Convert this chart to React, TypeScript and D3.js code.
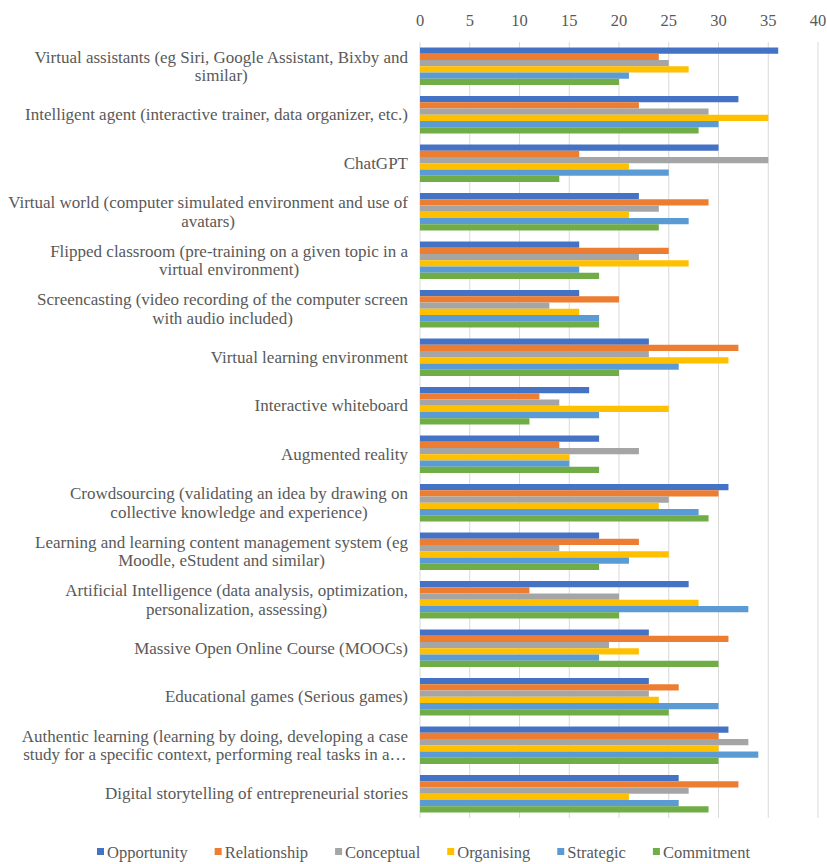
import React, { useEffect, useRef } from "react";
import * as d3 from "d3";

const categories: string[] = [
  "Virtual assistants (eg Siri, Google Assistant, Bixby and\nsimilar)",
  "Intelligent agent (interactive trainer, data organizer, etc.)",
  "ChatGPT",
  "Virtual world (computer simulated environment and use of\navatars)",
  "Flipped classroom (pre-training on a given topic in a\nvirtual environment)",
  "Screencasting (video recording of the computer screen\nwith audio included)",
  "Virtual learning environment",
  "Interactive whiteboard",
  "Augmented reality",
  "Crowdsourcing (validating an idea by drawing on\ncollective knowledge and experience)",
  "Learning and learning content management system (eg\nMoodle, eStudent and similar)",
  "Artificial Intelligence (data analysis, optimization,\npersonalization, assessing)",
  "Massive Open Online Course (MOOCs)",
  "Educational games (Serious games)",
  "Authentic learning (learning by doing, developing a case\nstudy for a specific context, performing real tasks in a…",
  "Digital storytelling of entrepreneurial stories",
];

const seriesNames: string[] = ["Opportunity", "Relationship", "Conceptual", "Organising", "Strategic", "Commitment"];
const seriesColors: string[] = ["#4472C4", "#ED7D31", "#A5A5A5", "#FFC000", "#5B9BD5", "#70AD47"];

const opportunity: number[] = [36, 32, 30, 22, 16, 16, 23, 17, 18, 31, 18, 27, 23, 23, 31, 26];
const relationship: number[] = [24, 22, 16, 29, 25, 20, 32, 12, 14, 30, 22, 11, 31, 26, 30, 32];
const conceptual: number[] = [25, 29, 35, 24, 22, 13, 23, 14, 22, 25, 14, 20, 19, 23, 33, 27];
const organising: number[] = [27, 35, 21, 21, 27, 16, 31, 25, 15, 24, 25, 28, 22, 24, 30, 21];
const strategic: number[] = [21, 30, 25, 27, 16, 18, 26, 18, 15, 28, 21, 33, 18, 30, 34, 26];
const commitment: number[] = [20, 28, 14, 24, 18, 18, 20, 11, 18, 29, 18, 20, 30, 25, 30, 29];

const xTicks: number[] = [0, 5, 10, 15, 20, 25, 30, 35, 40];

const FONT = "'Liberation Serif', 'Times New Roman', serif";
const TEXT_COLOR = "#595959";

export default function App() {
  const ref = useRef<SVGSVGElement>(null);

  useEffect(() => {
    const svg = d3.select(ref.current);
    svg.selectAll("*").remove();

    const allSeries = [opportunity, relationship, conceptual, organising, strategic, commitment];
    const x = d3.scaleLinear().domain([0, 40]).range([420, 818]);
    const y0 = d3.scaleBand<number>().domain(d3.range(categories.length)).range([42, 818]).paddingInner(0.227).paddingOuter(0.1135);
    const y1 = d3.scaleBand<number>().domain(d3.range(seriesNames.length)).range([0, y0.bandwidth()]);

    // gridlines
    svg.append("g").selectAll("line").data(xTicks).join("line")
      .attr("x1", (d) => x(d)).attr("x2", (d) => x(d))
      .attr("y1", 42).attr("y2", 818)
      .attr("stroke", "#d9d9d9").attr("stroke-width", 1);

    // tick labels
    svg.append("g").selectAll("text").data(xTicks).join("text")
      .attr("x", (d) => x(d)).attr("y", 20)
      .attr("text-anchor", "middle").attr("dominant-baseline", "central")
      .attr("font-family", FONT).attr("font-size", 16.5).attr("fill", TEXT_COLOR)
      .text((d) => String(d));

    // bars
    const groups = svg.append("g").selectAll("g").data(categories.map((_, i) => i)).join("g")
      .attr("transform", (i) => `translate(0,${y0(i)})`);
    groups.selectAll("rect").data((i) => allSeries.map((s, k) => ({ k, v: s[i] }))).join("rect")
      .attr("x", x(0))
      .attr("y", (d) => y1(d.k)!)
      .attr("width", (d) => x(d.v) - x(0))
      .attr("height", y1.bandwidth())
      .attr("fill", (d) => seriesColors[d.k]);

    // category labels
    const labelRight = 408;
    const lineH = 18.5;
    categories.forEach((cat, i) => {
      const lines = cat.split("\n");
      const cy = y0(i)! + y0.bandwidth() / 2;
      const g = svg.append("g");
      const texts = lines.map((ln, j) =>
        g.append("text")
          .attr("y", cy + (j - (lines.length - 1) / 2) * lineH)
          .attr("dominant-baseline", "central")
          .attr("font-family", FONT).attr("font-size", 17).attr("fill", TEXT_COLOR)
          .text(ln)
      );
      const widths = texts.map((t) => (t.node() as SVGTextElement).getComputedTextLength());
      const maxW = Math.max(...widths);
      texts.forEach((t) => {
        t.attr("text-anchor", "middle").attr("x", labelRight - maxW / 2);
      });
    });

    // legend
    const legend = svg.append("g");
    const items = seriesNames.map((name, k) => {
      const g = legend.append("g");
      g.append("rect").attr("x", 0).attr("y", -4).attr("width", 7).attr("height", 7).attr("fill", seriesColors[k]);
      const t = g.append("text").attr("x", 10).attr("y", 0)
        .attr("dominant-baseline", "central")
        .attr("font-family", FONT).attr("font-size", 16.5).attr("fill", TEXT_COLOR)
        .text(name);
      const w = 10 + (t.node() as SVGTextElement).getComputedTextLength();
      return { g, w };
    });
    const left = 97, right = 750;
    const sumW = d3.sum(items, (d) => d.w);
    const gap = (right - left - sumW) / (items.length - 1);
    let cx = left;
    items.forEach((it) => {
      it.g.attr("transform", `translate(${cx},852)`);
      cx += it.w + gap;
    });
  }, []);

  return (
    <div style={{ position: "absolute", left: 0, top: 0 }}>
      <svg ref={ref} width={827} height={864} style={{ display: "block", background: "#fff" }} />
    </div>
  );
}
